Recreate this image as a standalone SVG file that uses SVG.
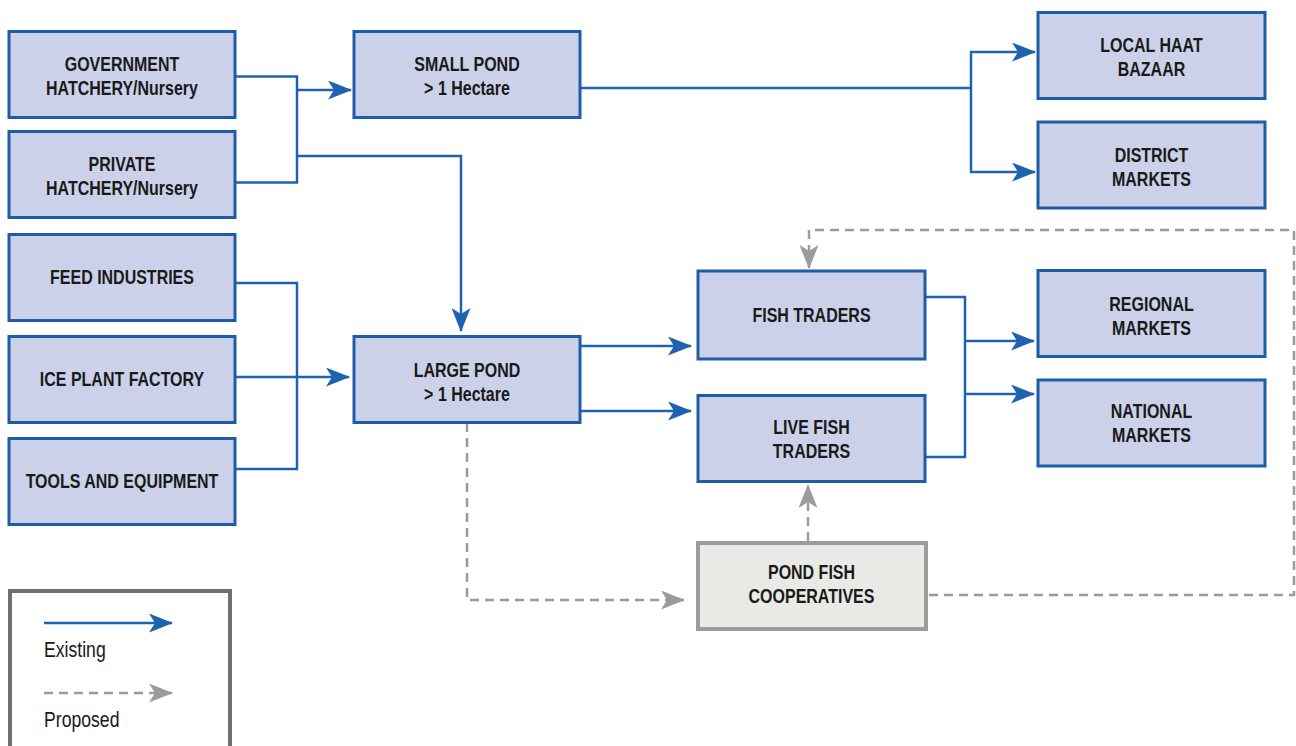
<svg xmlns="http://www.w3.org/2000/svg" width="1296" height="746" viewBox="0 0 1296 746">
  <style>
    .box rect { fill: #cbd1e8; stroke: #1f5ca8; stroke-width: 3; }
    .box.prop rect { fill: #e9eae5; stroke: #9b9b9e; stroke-width: 4; }
    .box text { font-family: "Liberation Sans", Arial, sans-serif; font-weight: bold; font-size: 19.5px; fill: #1a1a1a; text-anchor: middle; }
    .ex { fill: none; stroke: #1f63b0; stroke-width: 2.5; }
    .pr { fill: none; stroke: #9b9b9e; stroke-width: 2.5; stroke-dasharray: 9 6; }
    .lg { font-family: "Liberation Sans", Arial, sans-serif; font-size: 21.5px; fill: #1a1a1a; }
  </style>
  <defs>
    <marker id="ah-ex" viewBox="0 0 24 19" refX="23" refY="9.5" markerWidth="24" markerHeight="19" markerUnits="userSpaceOnUse" orient="auto">
      <path d="M0,0 L24,9.5 L0,19 L6,9.5 Z" fill="#1f63b0"/>
    </marker>
    <marker id="ah-pr" viewBox="0 0 24 19" refX="23" refY="9.5" markerWidth="24" markerHeight="19" markerUnits="userSpaceOnUse" orient="auto">
      <path d="M0,0 L24,9.5 L0,19 L6,9.5 Z" fill="#9b9b9e"/>
    </marker>
  </defs>

  <!-- connectors -->
  <g id="connectors">
    <!-- hatcheries to ponds -->
    <path class="ex" d="M235,76.5 H297 V182.5 H235"/>
    <path class="ex" d="M297,90 H351" marker-end="url(#ah-ex)"/>
    <path class="ex" d="M297,156 H461 V331" marker-end="url(#ah-ex)"/>
    <!-- inputs to large pond -->
    <path class="ex" d="M235,283 H297 V469 H235"/>
    <path class="ex" d="M235,377 H349" marker-end="url(#ah-ex)"/>
    <!-- small pond to local markets -->
    <path class="ex" d="M580,88 H971"/>
    <path class="ex" d="M971,88 V52 H1035" marker-end="url(#ah-ex)"/>
    <path class="ex" d="M971,88 V172 H1035" marker-end="url(#ah-ex)"/>
    <!-- large pond to traders -->
    <path class="ex" d="M580,346 H691" marker-end="url(#ah-ex)"/>
    <path class="ex" d="M580,411 H691" marker-end="url(#ah-ex)"/>
    <!-- traders to markets -->
    <path class="ex" d="M925,297 H965 V457 H925"/>
    <path class="ex" d="M965,341 H1034" marker-end="url(#ah-ex)"/>
    <path class="ex" d="M965,394 H1034" marker-end="url(#ah-ex)"/>
    <!-- proposed cooperative links -->
    <path class="pr" d="M467,423 V600 H684" marker-end="url(#ah-pr)"/>
    <path class="pr" d="M808,541 V485" marker-end="url(#ah-pr)"/>
    <path class="pr" d="M929,595 H1294 V230 H809 V268" marker-end="url(#ah-pr)"/>
  </g>

  <!-- node labels are set in a narrowed sans: each text is translated to its anchor, then squeezed horizontally -->
  <g id="gov-hatchery" class="box">
    <rect x="9" y="31.5" width="226" height="86"/>
    <text transform="translate(122 71) scale(0.82 1)">GOVERNMENT</text>
    <text transform="translate(122 95) scale(0.82 1)">HATCHERY/Nursery</text>
  </g>
  <g id="private-hatchery" class="box">
    <rect x="9" y="131.5" width="226" height="86"/>
    <text transform="translate(122 171) scale(0.82 1)">PRIVATE</text>
    <text transform="translate(122 195) scale(0.82 1)">HATCHERY/Nursery</text>
  </g>
  <g id="feed-industries" class="box">
    <rect x="9" y="234.5" width="226" height="86"/>
    <text transform="translate(122 283.5) scale(0.82 1)">FEED INDUSTRIES</text>
  </g>
  <g id="ice-plant" class="box">
    <rect x="9" y="336.5" width="226" height="86"/>
    <text transform="translate(122 386) scale(0.82 1)">ICE PLANT FACTORY</text>
  </g>
  <g id="tools-equipment" class="box">
    <rect x="9" y="438.5" width="226" height="86"/>
    <text transform="translate(122 488) scale(0.82 1)">TOOLS AND EQUIPMENT</text>
  </g>
  <g id="small-pond" class="box">
    <rect x="354" y="31.5" width="226" height="86"/>
    <text transform="translate(467 71) scale(0.82 1)">SMALL POND</text>
    <text transform="translate(467 95) scale(0.82 1)">&gt; 1 Hectare</text>
  </g>
  <g id="large-pond" class="box">
    <rect x="354" y="336.5" width="226" height="86"/>
    <text transform="translate(467 377) scale(0.82 1)">LARGE POND</text>
    <text transform="translate(467 401) scale(0.82 1)">&gt; 1 Hectare</text>
  </g>
  <g id="local-haat" class="box">
    <rect x="1038" y="12.5" width="227" height="86"/>
    <text transform="translate(1151.5 52) scale(0.82 1)">LOCAL HAAT</text>
    <text transform="translate(1151.5 76) scale(0.82 1)">BAZAAR</text>
  </g>
  <g id="district-markets" class="box">
    <rect x="1038" y="122" width="227" height="86"/>
    <text transform="translate(1151.5 162) scale(0.82 1)">DISTRICT</text>
    <text transform="translate(1151.5 186) scale(0.82 1)">MARKETS</text>
  </g>
  <g id="fish-traders" class="box">
    <rect x="698" y="271" width="227" height="88"/>
    <text transform="translate(811.5 322) scale(0.82 1)">FISH TRADERS</text>
  </g>
  <g id="live-fish-traders" class="box">
    <rect x="698" y="395.5" width="227" height="86"/>
    <text transform="translate(811.5 434) scale(0.82 1)">LIVE FISH</text>
    <text transform="translate(811.5 458) scale(0.82 1)">TRADERS</text>
  </g>
  <g id="regional-markets" class="box">
    <rect x="1038" y="270.5" width="227" height="86"/>
    <text transform="translate(1151.5 311) scale(0.82 1)">REGIONAL</text>
    <text transform="translate(1151.5 335) scale(0.82 1)">MARKETS</text>
  </g>
  <g id="national-markets" class="box">
    <rect x="1038" y="380" width="227" height="86"/>
    <text transform="translate(1151.5 418) scale(0.82 1)">NATIONAL</text>
    <text transform="translate(1151.5 442) scale(0.82 1)">MARKETS</text>
  </g>
  <g id="pond-fish-cooperatives" class="box prop">
    <rect x="698" y="543" width="228" height="86"/>
    <text transform="translate(811.5 579) scale(0.82 1)">POND FISH</text>
    <text transform="translate(811.5 603) scale(0.82 1)">COOPERATIVES</text>
  </g>

  <!-- legend -->
  <g id="legend">
    <rect x="10" y="591" width="220" height="170" fill="none" stroke="#6e6f72" stroke-width="4"/>
    <path class="ex" d="M44,623 H172" marker-end="url(#ah-ex)"/>
    <text class="lg" transform="translate(44 657) scale(0.82 1)">Existing</text>
    <path class="pr" d="M44,693 H172" marker-end="url(#ah-pr)"/>
    <text class="lg" transform="translate(44 727) scale(0.82 1)">Proposed</text>
  </g>
</svg>
